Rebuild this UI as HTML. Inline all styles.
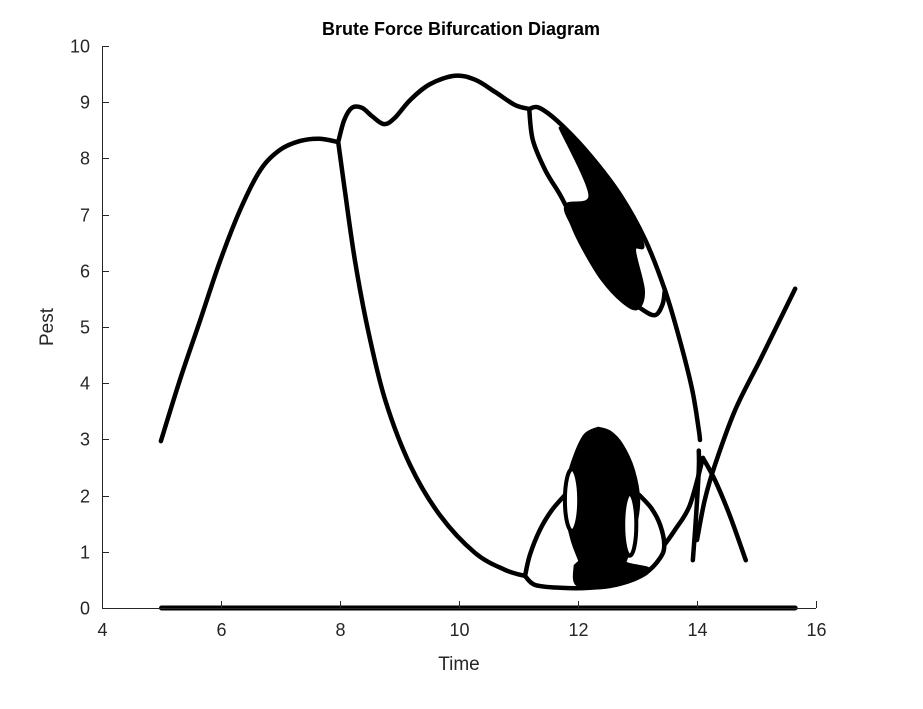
<!DOCTYPE html>
<html><head><meta charset="utf-8"><style>
html,body{margin:0;padding:0;background:#fff;}
svg{display:block;font-family:"Liberation Sans",Arial,sans-serif;}
</style></head><body>
<svg id="chart" width="923" height="709" viewBox="0 0 923 709">
<rect width="923" height="709" fill="#fff"/>
<g id="marks"></g>
<g id="axes"></g>
<text x="461" y="35" text-anchor="middle" font-size="18" font-weight="bold" fill="#000">Brute Force Bifurcation Diagram</text>
<text x="459" y="670" text-anchor="middle" font-size="19" fill="#262626">Time</text>
<text x="53" y="327" text-anchor="middle" font-size="19" fill="#262626" transform="rotate(-90 53 327)">Pest</text>
</svg>
<script>
const xTicks=[4,6,8,10,12,14,16];
const yTicks=[0,1,2,3,4,5,6,7,8,9,10];
const riseCurve=[[4.99,2.97],[5.31,4.06],[5.65,5.12],[5.98,6.16],[6.32,7.08],[6.66,7.79],[6.99,8.15],[7.33,8.31],[7.66,8.35],[7.97,8.29]];
const humpCurve=[[7.97,8.29],[8.07,8.68],[8.20,8.90],[8.37,8.90],[8.54,8.75],[8.74,8.61],[8.92,8.72],[9.18,9.04],[9.51,9.32],[9.93,9.47],[10.27,9.40],[10.61,9.18],[10.94,8.95],[11.18,8.88]];
const rightDescent=[[11.18,8.88],[11.35,8.90],[11.70,8.62],[12.20,8.06],[12.71,7.35],[13.13,6.55],[13.46,5.66],[13.71,4.77],[13.92,3.88],[14.03,3.17],[14.05,2.99]];
const verticalTail=[[14.03,2.80],[14.03,2.46],[13.98,1.57],[13.93,0.85]];
const leftDescent=[[7.97,8.29],[8.08,7.44],[8.25,6.19],[8.47,4.95],[8.76,3.70],[9.18,2.54],[9.68,1.65],[10.27,0.98],[10.77,0.68],[11.11,0.57]];
const lowerLeftArm=[[11.11,0.57],[11.19,0.94],[11.36,1.39],[11.56,1.74],[11.78,2.01]];
const lowerBottom=[[11.11,0.57],[11.28,0.41],[11.70,0.36],[12.20,0.36],[12.71,0.44],[13.13,0.62],[13.38,0.89],[13.45,1.12],[13.38,1.48],[13.23,1.78],[13.03,2.01]];
const xConnect=[[13.45,1.12],[13.63,1.39],[13.88,1.83],[14.10,2.67]];
const branchDown=[[14.10,2.67],[14.30,2.28],[14.55,1.65],[14.82,0.85]];
const branchUp=[[14.0,1.21],[14.13,1.92],[14.30,2.54],[14.64,3.52],[15.06,4.41],[15.39,5.12],[15.65,5.68]];
const upperLoop=[[11.18,8.88],[11.24,8.33],[11.45,7.79],[11.70,7.35],[11.87,6.99],[12.03,6.55],[12.29,6.10],[12.62,5.66],[13.04,5.34],[13.29,5.21],[13.42,5.40],[13.46,5.66]];
const upperFill=[[11.70,8.54],[12.03,8.24],[12.45,7.70],[12.79,7.17],[13.09,6.46],[12.95,6.37],[13.10,5.65],[13.00,5.33],[12.75,5.45],[12.40,5.85],[12.10,6.37],[11.90,6.81],[11.80,7.17],[12.20,7.35]];
const lowerBlob=[[12.34,3.20],[12.12,3.08],[11.95,2.72],[11.83,2.28],[11.80,1.74],[11.90,1.21],[12.05,0.77],[12.10,0.45],[12.60,0.45],[12.80,0.85],[12.95,1.39],[13.02,1.92],[12.93,2.46],[12.74,2.90],[12.54,3.13]];
const bottomWedge=[[11.95,0.75],[11.98,0.42],[12.40,0.36],[12.90,0.48],[13.20,0.68],[12.85,0.78],[12.50,0.90],[12.15,0.90]];
const innerOvals=[[11.90,1.92,0.12,0.55],[12.87,1.48,0.11,0.55]];
const floorLine=[[5.0,0],[15.65,0]];

const X0=102,X1=816,Y0=608,Y1=46;
const xs=t=>X0+(t-4)/(16-4)*(X1-X0);
const ys=p=>Y0-p/10*(Y0-Y1);
const NS='http://www.w3.org/2000/svg';
const marks=document.getElementById('marks');
const axes=document.getElementById('axes');
function smoothPath(pts){
  const P=pts.map(d=>[xs(d[0]),ys(d[1])]);
  let s='M'+P[0][0]+','+P[0][1];
  for(let i=0;i<P.length-1;i++){
    const p0=P[i-1]||P[i],p1=P[i],p2=P[i+1],p3=P[i+2]||p2;
    const c1=[p1[0]+(p2[0]-p0[0])/6,p1[1]+(p2[1]-p0[1])/6];
    const c2=[p2[0]-(p3[0]-p1[0])/6,p2[1]-(p3[1]-p1[1])/6];
    s+=' C'+c1+' '+c2+' '+p2;
  }
  return s;
}
function curve(pts,name,w){
  const el=document.createElementNS(NS,'path');
  el.setAttribute('d',smoothPath(pts));
  el.setAttribute('fill','none');el.setAttribute('stroke','#000');
  el.setAttribute('stroke-width',w||4.5);el.setAttribute('stroke-linecap','round');el.setAttribute('stroke-linejoin','round');
  
  
  marks.appendChild(el);
}
function fillPoly(pts,name){
  const el=document.createElementNS(NS,'path');
  el.setAttribute('d',smoothPath(pts.concat([pts[0]]))+'Z');
  el.setAttribute('fill','#000');el.setAttribute('stroke','#000');el.setAttribute('stroke-width',3);el.setAttribute('stroke-linejoin','round');
  
  
  marks.appendChild(el);
}
fillPoly(upperFill,'upper-chaotic-band');
fillPoly(lowerBlob,'lower-chaotic-band');
fillPoly(bottomWedge,'lower-band-base');
curve(riseCurve,'rising-branch');
curve(humpCurve,'upper-hump-branch');
curve(rightDescent,'right-descending-branch');
curve(verticalTail,'vertical-tail-branch');
curve(leftDescent,'left-descending-branch');
curve(lowerLeftArm,'lower-left-arm');
curve(lowerBottom,'lower-bottom-loop');
curve(xConnect,'x-connector-branch');
curve(branchDown,'falling-cross-branch');
curve(branchUp,'rising-cross-branch');
curve(upperLoop,'upper-loop-branch');
innerOvals.forEach(o=>{
  const e=document.createElementNS(NS,'ellipse');
  e.setAttribute('cx',xs(o[0]));e.setAttribute('cy',ys(o[1]));
  e.setAttribute('rx',xs(o[0]+o[2])-xs(o[0]));e.setAttribute('ry',ys(o[1])-ys(o[1]+o[3]));
  e.setAttribute('fill','#fff');e.setAttribute('stroke','#000');e.setAttribute('stroke-width',4);
  
  
  marks.appendChild(e);
});
curve(floorLine,'extinction-line',5);

function line(x1,y1,x2,y2,name){
  const l=document.createElementNS(NS,'line');
  l.setAttribute('x1',x1);l.setAttribute('y1',y1);l.setAttribute('x2',x2);l.setAttribute('y2',y2);
  l.setAttribute('stroke','#262626');l.setAttribute('stroke-width',1);
  
  
  axes.appendChild(l);
}
function label(x,y,txt,anchor,name){
  const t=document.createElementNS(NS,'text');
  t.setAttribute('x',x);t.setAttribute('y',y);t.setAttribute('text-anchor',anchor);
  t.setAttribute('font-size',18);t.setAttribute('fill','#262626');t.textContent=txt;
  
  
  axes.appendChild(t);
}
line(X0+0.5,Y0,X0+0.5,Y1,'y-axis-line');
line(X0,Y0+0.5,X1,Y0+0.5,'x-axis-line');
xTicks.forEach(v=>{const x=Math.round(xs(v))+0.5;line(x,Y0,x,Y0-7,'x-tick');label(x,Y0+28,String(v),'middle','x-tick-label');});
yTicks.forEach(v=>{const y=Math.round(ys(v))+0.5;line(X0,y,X0+7,y,'y-tick');label(X0-12,y+6,String(v),'end','y-tick-label');});
</script>
</body></html>
